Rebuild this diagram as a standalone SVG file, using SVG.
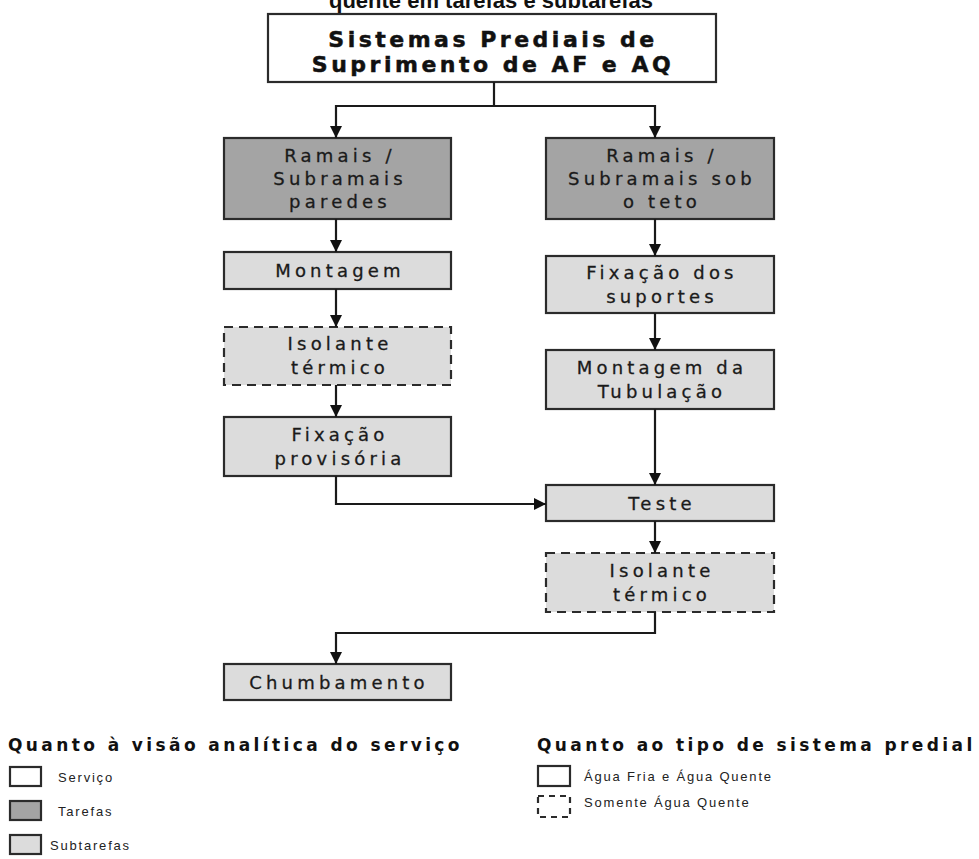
<svg xmlns="http://www.w3.org/2000/svg" width="979" height="859" viewBox="0 0 979 859">
  <defs>
    <marker id="arrow" viewBox="0 0 12 12" refX="12" refY="6" markerWidth="12" markerHeight="12" markerUnits="userSpaceOnUse" orient="auto">
      <path d="M0,0 L12,6 L0,12 z" fill="#111"/>
    </marker>
    <style>
      .box { stroke: #2b2b2b; stroke-width: 2.2; }
      .service { fill: #ffffff; }
      .task { fill: #a4a4a4; }
      .sub { fill: #dcdcdc; }
      .dash { stroke-dasharray: 9 6; }
      .lbl { font-family: "DejaVu Sans", sans-serif; font-size: 18px; letter-spacing: 4.2px; fill: #1a1a1a; stroke: #1a1a1a; stroke-width: 0.3; text-anchor: middle; }
      .head { font-family: "DejaVu Sans", sans-serif; font-weight: bold; font-size: 22px; letter-spacing: 3.5px; fill: #111; stroke: #111; stroke-width: 0.5; text-anchor: middle; }
      .cap { font-family: "Liberation Sans", Arial, sans-serif; font-weight: bold; font-size: 22px; fill: #111; text-anchor: middle; }
      .lgt { font-family: "DejaVu Sans", sans-serif; font-weight: bold; font-size: 17px; letter-spacing: 3.4px; fill: #111; }
      .lgi { font-family: "Liberation Sans", Arial, sans-serif; font-size: 13px; letter-spacing: 1.8px; fill: #222; }
      .conn { fill: none; stroke: #1a1a1a; stroke-width: 2.2; }
    </style>
  </defs>

  <rect width="979" height="859" fill="#ffffff"/>

  <!-- caption, cut by the top edge -->
  <text class="cap" x="491" y="8">quente em tarefas e subtarefas</text>

  <!-- service -->
  <g id="n-sistemas">
    <rect class="box service" x="268" y="14" width="448" height="68"/>
    <text class="head" x="493" y="47">Sistemas Prediais de</text>
    <text class="head" x="493" y="72">Suprimento de AF e AQ</text>
  </g>

  <!-- tasks -->
  <g id="n-ramais-paredes">
    <rect class="box task" x="224" y="138" width="227" height="81"/>
    <text class="lbl" x="340" y="162">Ramais /</text>
    <text class="lbl" x="340" y="185">Subramais</text>
    <text class="lbl" x="340" y="208">paredes</text>
  </g>
  <g id="n-ramais-teto">
    <rect class="box task" x="546" y="138" width="228" height="81"/>
    <text class="lbl" x="662" y="162">Ramais /</text>
    <text class="lbl" x="662" y="185">Subramais sob</text>
    <text class="lbl" x="662" y="208">o teto</text>
  </g>

  <!-- left column subtasks -->
  <g id="n-montagem">
    <rect class="box sub" x="224" y="252" width="227" height="37"/>
    <text class="lbl" x="340" y="277">Montagem</text>
  </g>
  <g id="n-isolante-1">
    <rect class="box sub dash" x="224" y="327" width="227" height="58"/>
    <text class="lbl" x="340" y="350">Isolante</text>
    <text class="lbl" x="340" y="374">térmico</text>
  </g>
  <g id="n-fixacao-provisoria">
    <rect class="box sub" x="224" y="417" width="227" height="59"/>
    <text class="lbl" x="340" y="441">Fixação</text>
    <text class="lbl" x="340" y="465">provisória</text>
  </g>
  <g id="n-chumbamento">
    <rect class="box sub" x="224" y="664" width="227" height="36"/>
    <text class="lbl" x="339" y="689">Chumbamento</text>
  </g>

  <!-- right column subtasks -->
  <g id="n-fixacao-suportes">
    <rect class="box sub" x="546" y="256" width="228" height="57"/>
    <text class="lbl" x="662" y="279">Fixação dos</text>
    <text class="lbl" x="662" y="303">suportes</text>
  </g>
  <g id="n-montagem-tubulacao">
    <rect class="box sub" x="546" y="350" width="228" height="59"/>
    <text class="lbl" x="662" y="374">Montagem da</text>
    <text class="lbl" x="662" y="398">Tubulação</text>
  </g>
  <g id="n-teste">
    <rect class="box sub" x="546" y="485" width="228" height="36"/>
    <text class="lbl" x="662" y="510">Teste</text>
  </g>
  <g id="n-isolante-2">
    <rect class="box sub dash" x="546" y="553" width="228" height="59"/>
    <text class="lbl" x="662" y="577">Isolante</text>
    <text class="lbl" x="662" y="601">térmico</text>
  </g>

  <!-- connectors -->
  <g id="connectors">
    <path class="conn" d="M494 82 V106 H336 V138" marker-end="url(#arrow)"/>
    <path class="conn" d="M494 106 H655 V138" marker-end="url(#arrow)"/>
    <path class="conn" d="M336 219 V252" marker-end="url(#arrow)"/>
    <path class="conn" d="M336 289 V327" marker-end="url(#arrow)"/>
    <path class="conn" d="M336 385 V417" marker-end="url(#arrow)"/>
    <path class="conn" d="M336 476 V504 H546" marker-end="url(#arrow)"/>
    <path class="conn" d="M655 219 V256" marker-end="url(#arrow)"/>
    <path class="conn" d="M655 313 V350" marker-end="url(#arrow)"/>
    <path class="conn" d="M655 409 V485" marker-end="url(#arrow)"/>
    <path class="conn" d="M655 521 V553" marker-end="url(#arrow)"/>
    <path class="conn" d="M655 612 V633 H336 V664" marker-end="url(#arrow)"/>
  </g>

  <!-- legend: analytic view -->
  <g id="legend-view">
    <text class="lgt" x="8" y="751">Quanto à visão analítica do serviço</text>
    <rect class="box service" x="10" y="767" width="31" height="19" stroke-width="1.6"/>
    <text class="lgi" x="58" y="782">Serviço</text>
    <rect class="box task" x="10" y="801" width="31" height="19" stroke-width="1.6"/>
    <text class="lgi" x="58" y="816">Tarefas</text>
    <rect class="box sub" x="10" y="835" width="31" height="19" stroke-width="1.6"/>
    <text class="lgi" x="50" y="850">Subtarefas</text>
  </g>

  <!-- legend: building system type -->
  <g id="legend-system">
    <text class="lgt" x="537" y="751">Quanto ao tipo de sistema predial</text>
    <rect class="box service" x="538" y="766" width="32" height="20" stroke-width="1.6"/>
    <text class="lgi" x="584" y="781">Água Fria e Água Quente</text>
    <rect class="box service dash" x="538" y="796" width="32" height="21" stroke-width="1.6" style="stroke-dasharray:6 5"/>
    <text class="lgi" x="584" y="807">Somente Água Quente</text>
  </g>
</svg>
